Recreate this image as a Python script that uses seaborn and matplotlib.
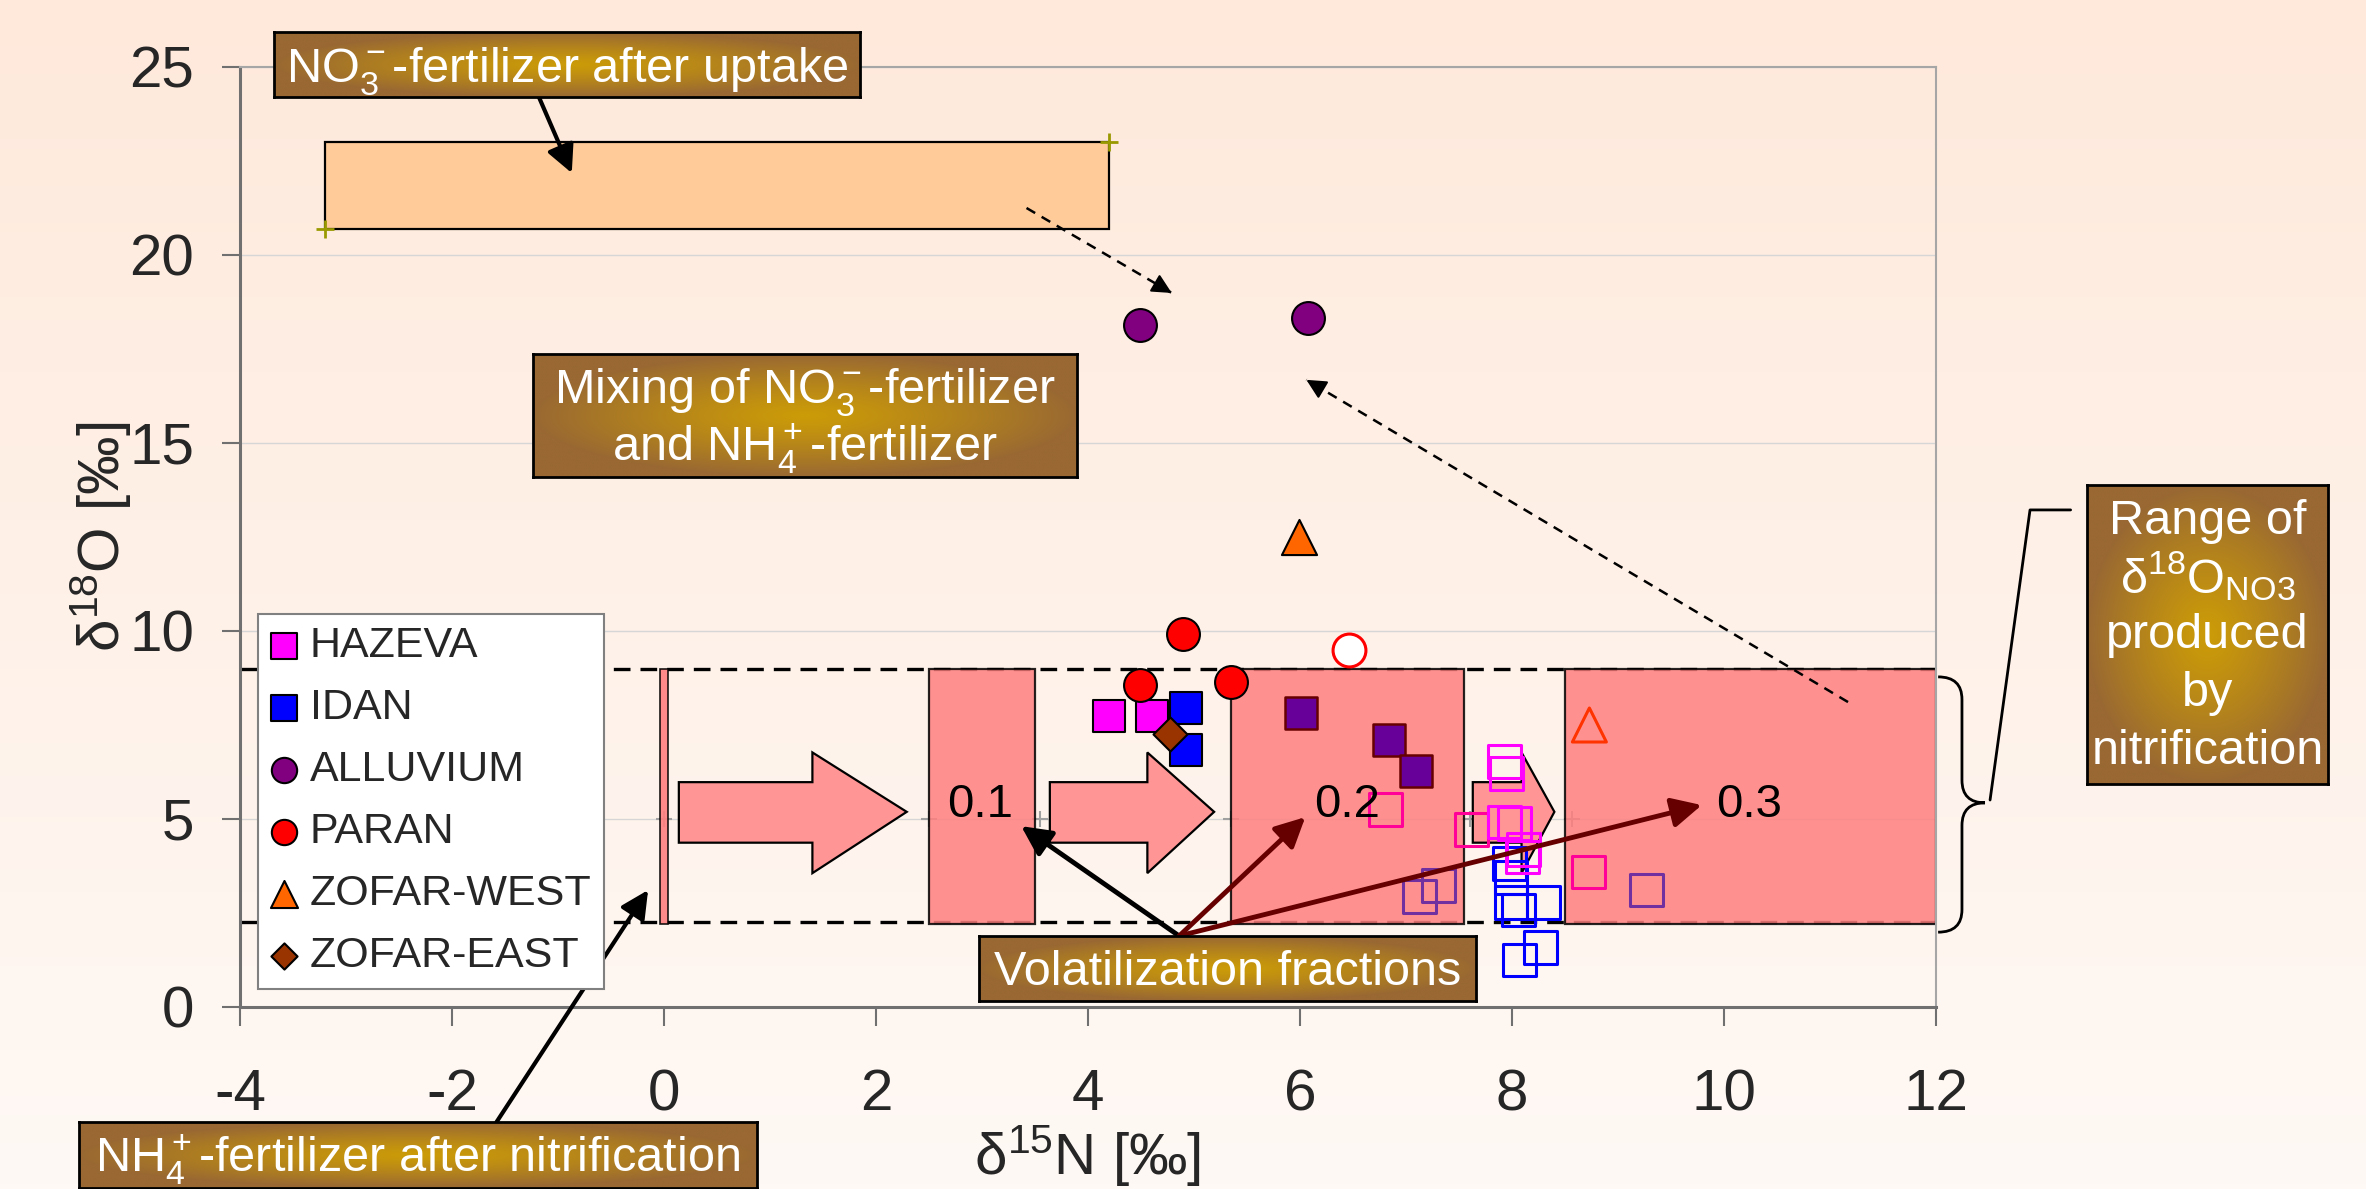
import numpy as np
import matplotlib
matplotlib.use("Agg")
import matplotlib.pyplot as plt
import seaborn as sns
from matplotlib.patches import Rectangle, Polygon, PathPatch
from matplotlib.path import Path

sns.set_style("ticks")
plt.rcParams["font.family"] = ["Liberation Sans", "DejaVu Sans"]
plt.rcParams["mathtext.fontset"] = "custom"
plt.rcParams["mathtext.rm"] = "Liberation Sans"
plt.rcParams["mathtext.it"] = "Liberation Sans:italic"
plt.rcParams["mathtext.bf"] = "Liberation Sans:bold"
plt.rcParams["axes.unicode_minus"] = False

W, H = 2366, 1189

# ---- sample points (legend entries, filled symbols) ----
site_names = ["HAZEVA", "IDAN", "ALLUVIUM", "PARAN", "ZOFAR-WEST", "ZOFAR-EAST"]
site_colors = ["#FF00FF", "#0000FF", "#800080", "#FF0000", "#FF6600", "#993300"]
site_markers = ["s", "s", "o", "o", "^", "D"]
site_sizes = [560, 560, 560, 560, 640, 300]

pt_site = ["HAZEVA", "HAZEVA", "IDAN", "IDAN", "ALLUVIUM", "ALLUVIUM",
           "PARAN", "PARAN", "PARAN", "ZOFAR-WEST", "ZOFAR-EAST"]
pt_d15n = [4.20, 4.60, 4.92, 4.92, 4.49, 6.08, 4.90, 4.49, 5.35, 5.99, 4.77]
pt_d18o = [7.75, 7.75, 7.95, 6.83, 18.14, 18.32, 9.92, 8.56, 8.64, 12.5, 7.26]

# dark violet filled squares (not in legend)
violet_d15n = [6.01, 6.84, 7.09]
violet_d18o = [7.82, 7.10, 6.28]

# open symbols
open_paran_x, open_paran_y = [6.46], [9.49]
open_zofar_x, open_zofar_y = [8.73], [7.50]
open_hazeva_x = [7.93, 7.95, 7.93, 8.02, 8.11, 8.10]
open_hazeva_y = [6.54, 6.20, 4.92, 4.87, 4.18, 3.99]
open_pink_x = [7.62, 6.81, 8.72]
open_pink_y = [4.73, 5.26, 3.59]
open_violet_x = [7.13, 7.31, 9.27]
open_violet_y = [2.95, 3.24, 3.11]
open_idan_x = [7.98, 7.99, 7.99, 8.30, 8.06, 8.27, 8.07]
open_idan_y = [3.82, 3.45, 2.77, 2.77, 2.58, 1.58, 1.25]

# ---- scheme elements ----
uptake_x = [-3.2, 4.2]
uptake_y = [20.7, 23.0]
nitrif_y = [2.25, 9.0]
frac_labels = ["0.1", "0.2", "0.3"]
frac_x0 = [2.5, 5.35, 8.5]
frac_x1 = [3.5, 7.55, 12.0]
frac_label_x = [2.98, 6.44, 10.24]
frac_rect_y = [2.2, 9.0]
nh4_bar_x = [-0.04, 0.04]
# block arrows: (shaft start, head start, tip)
block_arrows = [(0.14, 1.40, 2.29), (3.64, 4.56, 5.19), (7.63, 8.09, 8.40)]
shaft_y = [4.37, 5.98]
head_y = [3.56, 6.77]
tip_y = 5.19
cross_x = [0, 2.5, 3.55, 5.35, 7.6, 8.57]
vol_origin = (4.86, 1.89)
vol_tip_x = [3.37, 6.05, 9.79]
vol_tip_y = [4.81, 5.05, 5.37]
vol_colors = ["black", "#660000", "#660000"]

fig = plt.figure(figsize=(W / 100, H / 100), dpi=100)

# background gradient
bg = fig.add_axes([0, 0, 1, 1], zorder=-5)
top_c = np.array([254, 233, 219]) / 255
bot_c = np.array([255, 249, 245]) / 255
t = np.linspace(0, 1, 256)[:, None]
bg.imshow((top_c * (1 - t) + bot_c * t)[:, None, :], aspect="auto", extent=[0, 1, 0, 1])
bg.axis("off")

ax = fig.add_axes([240 / W, 1 - 1007 / H, 1696 / W, 940 / H])
ax.set_facecolor("none")
ax.set_xlim(-4, 12)
ax.set_ylim(0, 25)
ax.set_xticks(range(-4, 13, 2))
ax.set_yticks(range(0, 26, 5))
ax.yaxis.grid(True, color="#D6D6D6", lw=1)
ax.set_axisbelow(True)
for side in ["left", "bottom"]:
    ax.spines[side].set_color("#707070")
    ax.spines[side].set_linewidth(2.2)
for side in ["top", "right"]:
    ax.spines[side].set_visible(True)
    ax.spines[side].set_color("#A6A6A6")
    ax.spines[side].set_linewidth(1.5)
ax.tick_params(axis="y", length=13, width=1.5, color="#707070", pad=20, labelsize=42)
ax.tick_params(axis="x", length=14, width=1.5, color="#707070", pad=30, labelsize=42)

ax.set_xlabel("δ$^{15}$N [‰]", fontsize=42)
ax.xaxis.set_label_coords(0.5, (1007 - 1174) / 940)
ax.xaxis.label.set_va("baseline")
ax.set_ylabel("δ$^{18}$O [‰]", fontsize=42)
ax.yaxis.set_label_coords((120 - 240) / 1696, 0.5)
ax.yaxis.label.set_rotation_mode("anchor")
ax.yaxis.label.set_ha("center")
ax.yaxis.label.set_va("baseline")

# nitrification range
for yv in nitrif_y:
    ax.axhline(yv, color="black", lw=2.4, ls=(0, (5, 3)), zorder=1.5)

ax.add_patch(Rectangle((uptake_x[0], uptake_y[0]), uptake_x[1] - uptake_x[0],
                       uptake_y[1] - uptake_y[0], fc="#FFCC99", ec="black", lw=1.6, zorder=2))
sns.scatterplot(x=uptake_x, y=uptake_y, marker="+", color="#999900", s=160,
                linewidth=2, ax=ax, zorder=3, legend=False)

sns.scatterplot(x=cross_x, y=[5] * len(cross_x), marker="+", color="#A0A0A0", s=130,
                linewidth=1.5, ax=ax, zorder=1.8, legend=False)

ax.add_patch(Rectangle((nh4_bar_x[0], frac_rect_y[0]), nh4_bar_x[1] - nh4_bar_x[0],
                       frac_rect_y[1] - frac_rect_y[0], fc="#FF8080", ec="black",
                       lw=1.2, alpha=0.9, zorder=2))
for x0, x1 in zip(frac_x0, frac_x1):
    ax.add_patch(Rectangle((x0, frac_rect_y[0]), x1 - x0, frac_rect_y[1] - frac_rect_y[0],
                           fc="#FF8080", ec="black", lw=1.6, alpha=0.85, zorder=2))

for xs, xh, xt in block_arrows:
    verts = [(xs, shaft_y[0]), (xh, shaft_y[0]), (xh, head_y[0]), (xt, tip_y),
             (xh, head_y[1]), (xh, shaft_y[1]), (xs, shaft_y[1])]
    ax.add_patch(Polygon(verts, closed=True, fc="#FF9595", ec="black", lw=1.6, zorder=3))

for lab, lx in zip(frac_labels, frac_label_x):
    ax.text(lx, 5.05, lab, fontsize=34, ha="center", va="baseline", color="black", zorder=6)

# open symbols
open_groups = [
    (open_idan_x, open_idan_y, "s", "#0000FF", "none"),
    (open_violet_x, open_violet_y, "s", "#7030A0", "none"),
    (open_pink_x, open_pink_y, "s", "#FF0099", "none"),
    (open_hazeva_x, open_hazeva_y, "s", "#FF00FF", "none"),
    (open_zofar_x, open_zofar_y, "^", "#FF3300", "none"),
    (open_paran_x, open_paran_y, "o", "#FF0000", "white"),
]
for gx, gy, mk, ec, fc in open_groups:
    sns.scatterplot(x=gx, y=gy, marker=mk, s=600 if mk == "^" else 560, facecolor=fc,
                    edgecolor=ec, linewidth=2.2, ax=ax, zorder=4, legend=False)

# volatilization arrows
for tx, ty, c in zip(vol_tip_x, vol_tip_y, vol_colors):
    ax.annotate("", xy=(tx, ty), xytext=vol_origin,
                arrowprops=dict(arrowstyle="-|>", color=c, lw=3.5, mutation_scale=45,
                                shrinkA=0, shrinkB=0), zorder=4.5)

# filled symbols
for name, col, mk, sz in zip(site_names, site_colors, site_markers, site_sizes):
    xs = [x for x, s in zip(pt_d15n, pt_site) if s == name]
    ys = [y for y, s in zip(pt_d18o, pt_site) if s == name]
    sns.scatterplot(x=xs, y=ys, marker=mk, color=col, s=sz, edgecolor="black",
                    linewidth=1.5, ax=ax, zorder=5, label=name, legend=False)
sns.scatterplot(x=violet_d15n, y=violet_d18o, marker="s", color="#660099", s=560,
                edgecolor="#660000", linewidth=1.8, ax=ax, zorder=5, legend=False)

# dashed mixing arrows
def dashed_arrow(x0, y0, x1, y1):
    ax.plot([x0, x1], [y0, y1], color="black", lw=1.8, ls=(0, (4, 3)), zorder=4)
    dx, dy = x1 - x0, y1 - y0
    ax.annotate("", xy=(x1, y1), xytext=(x1 - 0.02 * dx, y1 - 0.02 * dy),
                arrowprops=dict(arrowstyle="-|>", color="black", lw=1.5,
                                mutation_scale=30, shrinkA=0, shrinkB=0), zorder=4)

dashed_arrow(3.42, 21.25, 4.79, 18.99)
dashed_arrow(11.17, 8.11, 6.06, 16.68)

# solid callout arrows
def solid_arrow(x0, y0, x1, y1):
    ax.annotate("", xy=(x1, y1), xytext=(x0, y0), annotation_clip=False,
                arrowprops=dict(arrowstyle="-|>", color="black", lw=3, mutation_scale=42,
                                shrinkA=0, shrinkB=0), zorder=6)

solid_arrow(-1.18, 24.2, -0.87, 22.18)
solid_arrow(-1.58, -3.06, -0.15, 3.11)

# curly brace and leader line
bx0, bxv, bxt = 12.02, 12.245, 12.462
by_top, by_mid, by_bot, r = 8.78, 5.43, 1.99, 0.6
brace = Path([(bx0, by_top), (bxv, by_top), (bxv, by_top - r), (bxv, by_mid + r),
              (bxv, by_mid), (bxt, by_mid), (bxv, by_mid), (bxv, by_mid - r),
              (bxv, by_bot + r), (bxv, by_bot), (bx0, by_bot)],
             [Path.MOVETO, Path.CURVE3, Path.CURVE3, Path.LINETO, Path.CURVE3, Path.CURVE3,
              Path.CURVE3, Path.CURVE3, Path.LINETO, Path.CURVE3, Path.CURVE3])
ax.add_patch(PathPatch(brace, fc="none", ec="black", lw=2, clip_on=False))
ax.plot([12.51, 12.887, 13.27], [5.505, 13.22, 13.22], color="black", lw=2, clip_on=False)

leg_handles, leg_labels = ax.get_legend_handles_labels()
leg = ax.legend(leg_handles, leg_labels, loc="lower left", bbox_to_anchor=(0.0106, 0.019),
                borderaxespad=0, fontsize=31, markerscale=0.77, frameon=True, fancybox=False,
                edgecolor="#808080", facecolor="white", framealpha=1, borderpad=0.3,
                handlelength=0.6, handletextpad=0.3, labelspacing=0.51)
leg.get_frame().set_linewidth(1.5)
leg.set_zorder(20)

# brown label boxes
def gradient_img(ny=80, nx=240):
    u = np.linspace(-1, 1, nx)
    v = np.linspace(-1, 1, ny)
    U, V = np.meshgrid(u, v)
    tt = np.clip(np.sqrt(U ** 2 + V ** 2), 0, 1) ** 1.2
    c0 = np.array([0.80, 0.61, 0.03])
    c1 = np.array([0.60, 0.41, 0.20])
    return c0 * (1 - tt)[..., None] + c1 * tt[..., None]

def brown_box(px_box, lines):
    x0, y0, x1, y1 = px_box
    bax = fig.add_axes([x0 / W, 1 - y1 / H, (x1 - x0) / W, (y1 - y0) / H])
    bax.imshow(gradient_img(), extent=[0, 1, 0, 1], aspect="auto", interpolation="bilinear")
    bax.set_xlim(0, 1)
    bax.set_ylim(0, 1)
    bax.set_xticks([])
    bax.set_yticks([])
    for sp in bax.spines.values():
        sp.set_visible(True)
        sp.set_color("black")
        sp.set_linewidth(2)
    for txt, base_py in lines:
        bax.text(0.5, (y1 - base_py) / (y1 - y0), txt, ha="center", va="baseline",
                 color="white", fontsize=35, transform=bax.transAxes)

brown_box((274, 32, 860, 97), [("NO$_3^-$-fertilizer after uptake", 82)])
brown_box((533, 354, 1077, 477), [("Mixing of NO$_3^-$-fertilizer", 403),
                                  ("and NH$_4^+$-fertilizer", 461)])
brown_box((79, 1122, 757, 1188), [("NH$_4^+$-fertilizer after nitrification", 1172)])
brown_box((979, 936, 1476, 1001), [("Volatilization fractions", 985)])
brown_box((2087, 485, 2328, 784), [("Range of", 534), ("δ$^{18}$O$_{\\mathrm{NO3}}$", 593),
                                   ("produced", 648), ("by", 706), ("nitrification", 764)])

fig.savefig("out.png", dpi=100)
